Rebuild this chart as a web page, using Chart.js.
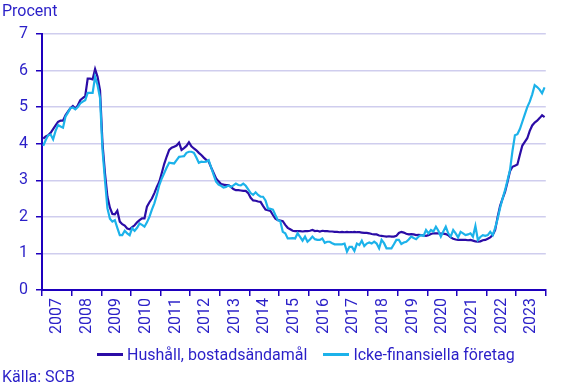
<!DOCTYPE html>
<html lang="sv">
<head>
<meta charset="utf-8">
<script src="https://cdn.jsdelivr.net/npm/chart.js@4.4.1/dist/chart.umd.min.js"></script>
<style>
  html, body { margin: 0; padding: 0; background: #fff; }
  body { width: 567px; height: 388px; position: relative; overflow: hidden;
         font-family: Roboto, "Noto Sans", Arial, sans-serif; color: #2a1fc8; }
  #wrap { position: absolute; left: 0; top: 0; width: 567px; height: 388px; }
  .unit { position: absolute; left: 2px; top: 1px; font-size: 16px; }
  .source { position: absolute; left: 2px; top: 367px; font-size: 16px; }
  .legend { position: absolute; left: 97px; top: 345px; font-size: 16px; display: flex; align-items: center; white-space: nowrap; }
  .legend .item { display: flex; align-items: center; margin-right: 16px; }
  .legend .swatch { display: inline-block; width: 26px; height: 3px; margin-right: 4px; }
</style>
</head>
<body>
<div id="wrap"><canvas id="chart" width="567" height="388"></canvas></div>
<div class="unit">Procent</div>
<div class="legend" id="legend"></div>
<div class="source">Källa: SCB</div>
<script>
// Utlåningsräntor, monthly, Jan 2007 - Dec 2023
const FIRST_YEAR = 2007;
const YEAR_LABELS = ['2007', '2008', '2009', '2010', '2011', '2012', '2013', '2014', '2015',
                     '2016', '2017', '2018', '2019', '2020', '2021', '2022', '2023'];
const SERIES_NAMES = ['Hushåll, bostadsändamål', 'Icke-finansiella företag'];
const SERIES_COLORS = ['#2b0ca6', '#1cb2ea'];

const hushall = [
  4.14, 4.20, 4.23, 4.30, 4.40, 4.50, 4.60, 4.63, 4.63, 4.78, 4.88, 4.97,   // 2007
  5.03, 4.96, 5.05, 5.19, 5.25, 5.30, 5.78, 5.78, 5.76, 6.04, 5.83, 5.46,   // 2008
  4.00, 3.19, 2.55, 2.25, 2.08, 2.07, 2.17, 1.87, 1.80, 1.76, 1.68, 1.66,   // 2009
  1.72, 1.77, 1.85, 1.91, 1.96, 1.96, 2.28, 2.40, 2.50, 2.65, 2.82, 2.96,   // 2010
  3.20, 3.45, 3.65, 3.83, 3.89, 3.92, 3.95, 4.03, 3.83, 3.88, 3.94, 4.04,   // 2011
  3.93, 3.87, 3.82, 3.75, 3.69, 3.62, 3.56, 3.51, 3.35, 3.20, 3.05, 2.97,   // 2012
  2.90, 2.88, 2.87, 2.87, 2.82, 2.76, 2.73, 2.73, 2.72, 2.71, 2.71, 2.65,   // 2013
  2.52, 2.45, 2.44, 2.42, 2.41, 2.30, 2.20, 2.18, 2.16, 2.05, 1.95, 1.91,   // 2014
  1.90, 1.88, 1.78, 1.70, 1.66, 1.62, 1.61, 1.61, 1.61, 1.60, 1.61, 1.61,   // 2015
  1.62, 1.64, 1.61, 1.62, 1.60, 1.62, 1.61, 1.61, 1.60, 1.60, 1.59, 1.59,   // 2016
  1.58, 1.59, 1.58, 1.59, 1.58, 1.58, 1.59, 1.58, 1.58, 1.57, 1.56, 1.56,   // 2017
  1.55, 1.53, 1.52, 1.52, 1.49, 1.48, 1.47, 1.46, 1.47, 1.46, 1.46, 1.48,   // 2018
  1.56, 1.59, 1.57, 1.54, 1.52, 1.53, 1.52, 1.50, 1.51, 1.50, 1.49, 1.48,   // 2019
  1.50, 1.53, 1.55, 1.55, 1.55, 1.54, 1.54, 1.53, 1.50, 1.44, 1.40, 1.38,   // 2020
  1.37, 1.37, 1.37, 1.37, 1.36, 1.37, 1.35, 1.33, 1.32, 1.33, 1.36, 1.37,   // 2021
  1.40, 1.44, 1.50, 1.64, 2.00, 2.30, 2.50, 2.68, 2.95, 3.25, 3.37, 3.40,   // 2022
  3.43, 3.70, 3.95, 4.05, 4.15, 4.35, 4.50, 4.58, 4.63, 4.70, 4.78, 4.73    // 2023
];

const foretag = [
  3.94, 4.10, 4.23, 4.25, 4.12, 4.35, 4.51, 4.47, 4.44, 4.74, 4.85, 4.97,   // 2007
  4.99, 4.94, 5.00, 5.10, 5.15, 5.19, 5.39, 5.39, 5.39, 5.83, 5.60, 5.25,   // 2008
  3.83, 3.00, 2.23, 1.95, 1.87, 1.91, 1.70, 1.50, 1.50, 1.62, 1.55, 1.50,   // 2009
  1.69, 1.62, 1.70, 1.82, 1.78, 1.73, 1.85, 2.00, 2.20, 2.37, 2.60, 2.87,   // 2010
  3.05, 3.20, 3.35, 3.48, 3.47, 3.46, 3.55, 3.64, 3.65, 3.66, 3.75, 3.78,   // 2011
  3.78, 3.75, 3.62, 3.48, 3.51, 3.50, 3.51, 3.55, 3.35, 3.15, 2.96, 2.88,   // 2012
  2.85, 2.80, 2.82, 2.86, 2.82, 2.86, 2.91, 2.87, 2.86, 2.91, 2.85, 2.75,   // 2013
  2.65, 2.60, 2.67, 2.60, 2.55, 2.55, 2.45, 2.23, 2.22, 2.20, 2.05, 1.91,   // 2014
  1.88, 1.59, 1.55, 1.41, 1.41, 1.42, 1.41, 1.55, 1.45, 1.35, 1.46, 1.32,   // 2015
  1.38, 1.46, 1.39, 1.37, 1.37, 1.41, 1.29, 1.32, 1.32, 1.28, 1.25, 1.25,   // 2016
  1.25, 1.25, 1.27, 1.05, 1.18, 1.18, 1.07, 1.27, 1.23, 1.35, 1.20, 1.27,   // 2017
  1.30, 1.27, 1.32, 1.27, 1.14, 1.37, 1.28, 1.14, 1.14, 1.14, 1.25, 1.37,   // 2018
  1.37, 1.26, 1.30, 1.32, 1.38, 1.46, 1.42, 1.39, 1.46, 1.50, 1.48, 1.64,   // 2019
  1.55, 1.64, 1.60, 1.73, 1.62, 1.46, 1.60, 1.73, 1.55, 1.46, 1.64, 1.55,   // 2020
  1.44, 1.59, 1.55, 1.50, 1.52, 1.55, 1.46, 1.75, 1.37, 1.45, 1.50, 1.48,   // 2021
  1.50, 1.59, 1.50, 1.70, 1.95, 2.25, 2.50, 2.73, 3.00, 3.28, 3.80, 4.23,   // 2022
  4.26, 4.40, 4.60, 4.80, 5.00, 5.15, 5.35, 5.60, 5.55, 5.48, 5.38, 5.54    // 2023
];

const TEXT_COLOR = '#2a1fc8';
const AXIS_COLOR = '#1e00be';
const GRID_COLOR = '#cfcdee';

// month index -> fractional year (mid-month) on a linear axis
const toPoints = (arr) => arr.map((v, i) => ({ x: FIRST_YEAR + (i + 0.5) / 12, y: v }));

// HTML legend
document.getElementById('legend').innerHTML = SERIES_NAMES.map((name, i) =>
  `<span class="item"><span class="swatch" style="background:${SERIES_COLORS[i]}"></span>${name}</span>`
).join('');

const font = { family: 'Roboto, "Noto Sans", Arial, sans-serif', size: 16 };

new Chart(document.getElementById('chart').getContext('2d'), {
  type: 'line',
  data: {
    datasets: [
      { label: SERIES_NAMES[0], data: toPoints(hushall), borderColor: SERIES_COLORS[0],
        borderWidth: 2.2, pointRadius: 0, tension: 0, order: 1 },
      { label: SERIES_NAMES[1], data: toPoints(foretag), borderColor: SERIES_COLORS[1],
        borderWidth: 2.2, pointRadius: 0, tension: 0, order: 0 }
    ]
  },
  options: {
    responsive: false,
    animation: false,
    events: [],
    layout: { padding: { top: 34, right: 15, left: 0, bottom: 48 } },
    plugins: { legend: { display: false }, tooltip: { enabled: false } },
    scales: {
      x: {
        type: 'linear',
        min: FIRST_YEAR,
        max: FIRST_YEAR + YEAR_LABELS.length,
        afterFit: (s) => { s.height = 50; },
        afterBuildTicks: (s) => {
          s.ticks = YEAR_LABELS.map((y, i) => ({ value: FIRST_YEAR + i }))
            .concat([{ value: FIRST_YEAR + YEAR_LABELS.length }]);
        },
        ticks: {
          autoSkip: false,
          minRotation: 90, maxRotation: 90,
          labelOffset: 15,
          padding: 2,
          color: TEXT_COLOR,
          font: font,
          callback: (v) => YEAR_LABELS[Math.round(v - FIRST_YEAR)] || ''
        },
        grid: { drawOnChartArea: false, drawTicks: true, tickLength: 6, color: AXIS_COLOR, lineWidth: 1.5 },
        border: { display: true, color: AXIS_COLOR, width: 2 }
      },
      y: {
        min: 0, max: 7,
        afterFit: (s) => { s.width = 42; },
        ticks: { stepSize: 1, color: TEXT_COLOR, font: font, padding: 8 },
        grid: { color: GRID_COLOR, lineWidth: 1.5, tickLength: 6, tickColor: AXIS_COLOR, drawTicks: true },
        border: { display: true, color: AXIS_COLOR, width: 2 }
      }
    }
  }
});
</script>
</body>
</html>
